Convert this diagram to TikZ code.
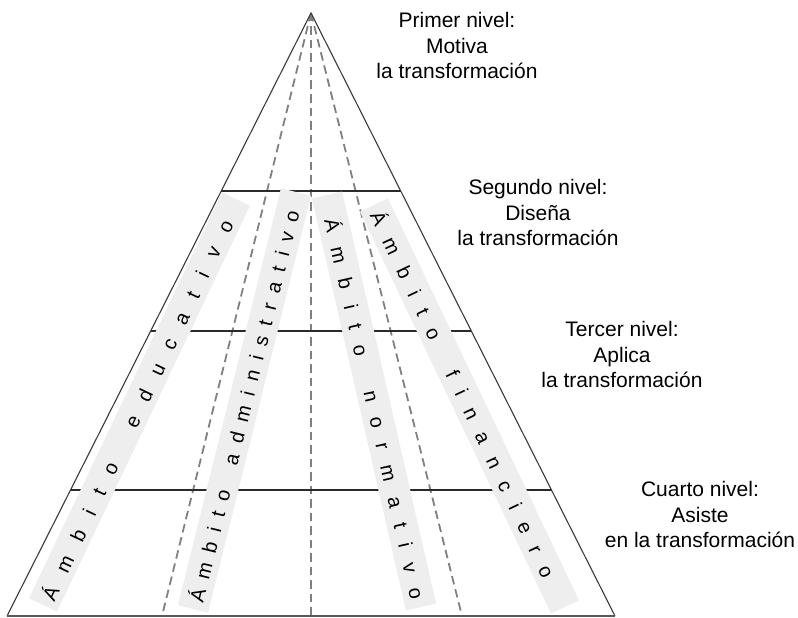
\documentclass[tikz,border=0pt]{standalone}
\usepackage{fontspec}
\setmainfont{Liberation Sans}
\definecolor{bandgray}{HTML}{EEEEEE}
\definecolor{edgecol}{HTML}{3A3A3A}
\definecolor{levelcol}{HTML}{2A2A2A}
\definecolor{dashcol}{HTML}{808080}
\makeatletter
\newcommand\trkval{0pt}
\def\spc@a#1{\ifx#1\relax\else\kern\trkval\relax#1\expandafter\spc@a\fi}
\def\spc@b#1{#1\spc@a}
\newcommand\spaced[2]{\def\trkval{#1}\spc@b#2\relax}
\makeatother
\tikzset{
  bandbox/.style={rectangle, fill=bandgray, draw=none, minimum height=31pt, inner sep=0pt},
  bandtext/.style={font=\fontsize{20}{20}\selectfont, inner sep=0pt},
  lvl/.style={align=center, font=\fontsize{21}{25.5}\selectfont, inner sep=0pt},
  levelline/.style={line width=2.4pt, draw=levelcol},
  guide/.style={dash pattern=on 8.5pt off 5pt, line width=1.8pt, draw=dashcol},
  outline/.style={line width=1.1pt, draw=edgecol, line join=miter},
  baseedge/.style={line width=1.3pt, draw=black!65}
}
\begin{document}
\begin{tikzpicture}[x=1pt,y=-1pt]
\useasboundingbox (0,0) rectangle (798,618);
% triangle corners
\coordinate (apex) at (311,13);
\coordinate (bl) at (7,616);
\coordinate (br) at (615,616);
% level line ends
\coordinate (l1l) at (221.3,191);
\coordinate (l1r) at (400.7,191);
\coordinate (l2l) at (150.7,331);
\coordinate (l2r) at (471.3,331);
\coordinate (l3l) at (70.5,490);
\coordinate (l3r) at (551.5,490);
% dashed guide ends
\coordinate (d1) at (162,616);
\coordinate (d2) at (311,616);
\coordinate (d3) at (462,616);
% dashed guides
\draw[guide] (apex) -- (d1);
\draw[guide] (apex) -- (d2);
\draw[guide] (apex) -- (d3);
% level lines
\draw[levelline] (l1l) -- (l1r);
\draw[levelline] (l2l) -- (l2r);
\draw[levelline] (l3l) -- (l3r);
% bands
\node[bandbox, minimum width=449.5pt, rotate=64.57] (band1) at (139.5,402) {};
\node[bandbox, minimum width=429.5pt, rotate=76.13] (band2) at (244.5,400.5) {};
\node[bandbox, minimum width=422.6pt, rotate=-77.15] (band3) at (374,401) {};
\node[bandbox, minimum width=445pt, rotate=-64.58] (band4) at (469.5,406) {};
% triangle outline
\draw[outline] (bl) -- (apex) -- (br);
\draw[baseedge] (bl) -- (br);
% band texts
\node[bandtext, rotate=64.57] (t1) at (136.5,409.4) {\spaced{17.7pt}{Ámbito~educativo}};
\node[bandtext, rotate=76.13] (t2) at (243.1,406.1) {\spaced{10.6pt}{Ámbito~administrativo}};
\node[bandtext, rotate=-77.15] (t3) at (375.7,408.3) {\spaced{15.6pt}{Ámbito~normativo}};
\node[bandtext, rotate=-64.58] (t4) at (463.7,393.8) {\spaced{15.5pt}{Ámbito~financiero}};
% level labels
\node[lvl] (lab1) at (457,45.5) {Primer nivel:\\Motiva\\la transformación};
\node[lvl] (lab2) at (538,212.5) {Segundo nivel:\\Diseña\\la transformación};
\node[lvl] (lab3) at (622,354.5) {Tercer nivel:\\Aplica\\la transformación};
\node[lvl] (lab4) at (700,514.5) {Cuarto nivel:\\Asiste\\en la transformación};
\end{tikzpicture}
\end{document}
